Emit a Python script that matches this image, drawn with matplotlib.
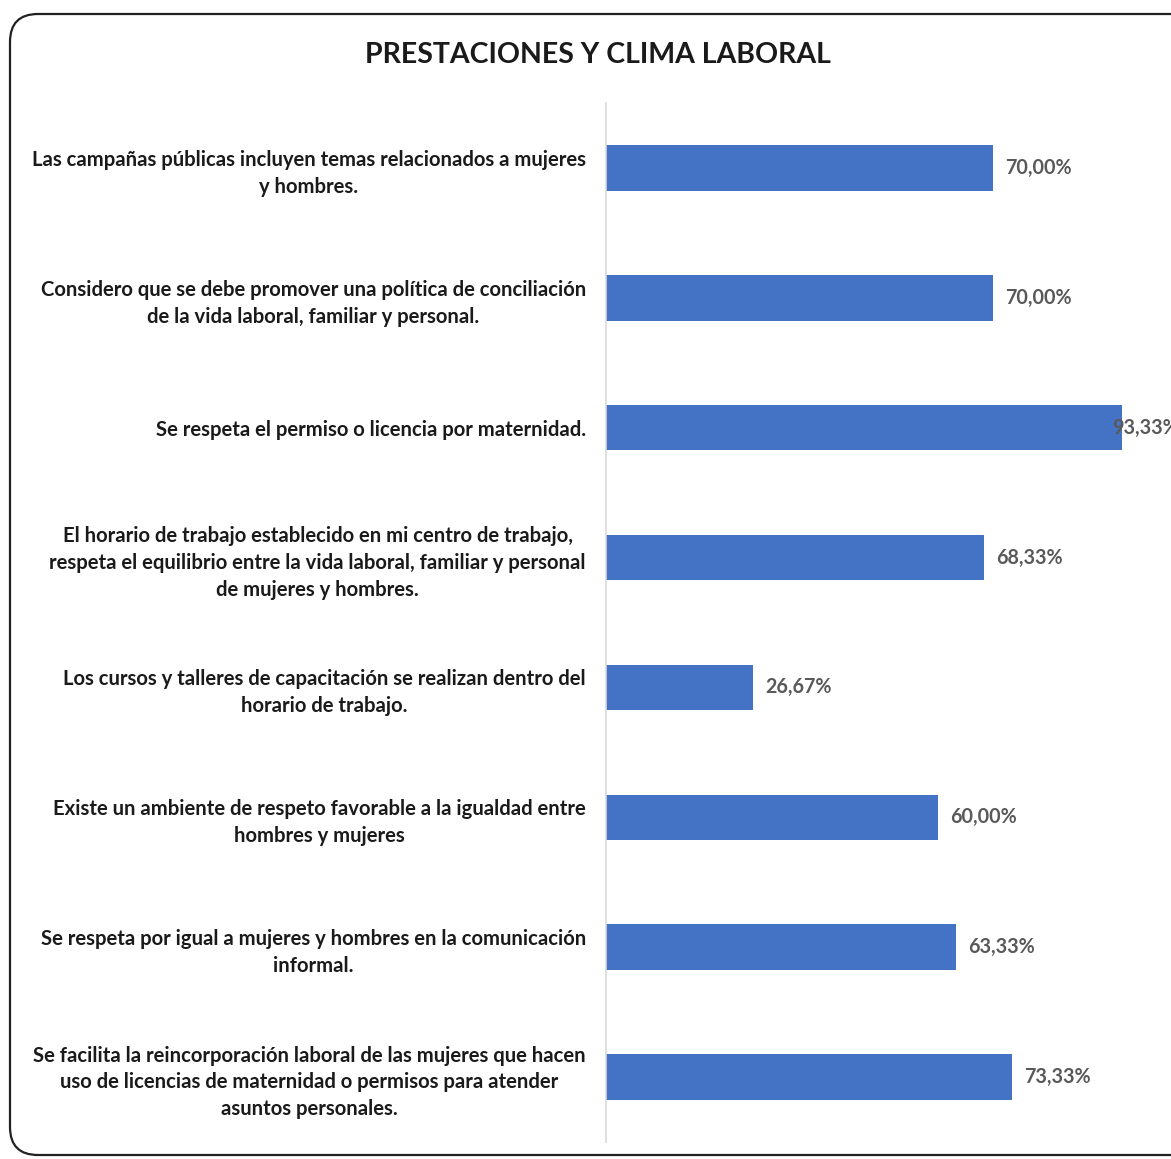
import matplotlib.pyplot as plt
from matplotlib.patches import FancyBboxPatch

# Data (top to bottom as shown)
categories = [
    "Las campañas públicas incluyen temas relacionados a mujeres\ny hombres.",
    "Considero que se debe promover una política de conciliación\nde la vida laboral, familiar y personal.",
    "Se respeta el permiso o licencia por maternidad.",
    "El horario de trabajo establecido en mi centro de trabajo,\nrespeta el equilibrio entre la vida laboral, familiar y personal\nde mujeres y hombres.",
    "Los cursos y talleres de capacitación se realizan dentro del\nhorario de trabajo.",
    "Existe un ambiente de respeto favorable a la igualdad entre\nhombres y mujeres",
    "Se respeta por igual a mujeres y hombres en la comunicación\ninformal.",
    "Se facilita la reincorporación laboral de las mujeres que hacen\nuso de licencias de maternidad o permisos para atender\nasuntos personales.",
]
values = [70.00, 70.00, 93.33, 68.33, 26.67, 60.00, 63.33, 73.33]
title = "PRESTACIONES Y CLIMA LABORAL"

plt.rcParams['font.family'] = ['Lato', 'DejaVu Sans']

W, H = 1171, 1159
fig = plt.figure(figsize=(W / 100, H / 100), dpi=100)

# rounded frame, running off the right edge like the screenshot
frame = FancyBboxPatch((0.10, 0.04), 12.5, 11.41,
                       boxstyle="round,pad=0,rounding_size=0.28",
                       transform=fig.dpi_scale_trans, fill=False,
                       edgecolor='#222222', linewidth=1.6, clip_on=False)
fig.patches.append(frame)

ax = fig.add_axes([606 / W, 1 - 1142 / H, 553 / W, 1039 / H])
y = list(range(len(categories)))
ax.barh(y, values, height=0.35, color='#4472C4')
ax.set_xlim(0, 100)
ax.set_ylim(len(categories) - 0.5, -0.5)

ax.set_yticks(y)
ax.set_yticklabels(categories, fontsize=14.6, fontweight='bold', color='#1a1a1a',
                   ha='right', multialignment='center', linespacing=1.42)
ax.tick_params(axis='y', length=0, pad=14.5)
ax.set_xticks([])
for s in ['top', 'right', 'bottom']:
    ax.spines[s].set_visible(False)
ax.spines['left'].set_color('#d9d9d9')
ax.spines['left'].set_linewidth(1.2)

for yi, v in zip(y, values):
    xpos = min(v + 2.2, 91.5)
    ax.text(xpos, yi, f"{v:.2f}%".replace('.', ','), va='center', ha='left',
            fontsize=14.2, fontweight='bold', color='#595959', clip_on=False)

fig.text(598 / W, 1 - 55 / H, title, ha='center', va='center',
         fontsize=20.5, fontweight='bold', color='#1a1a1a')

fig.savefig('out.png', dpi=100)
